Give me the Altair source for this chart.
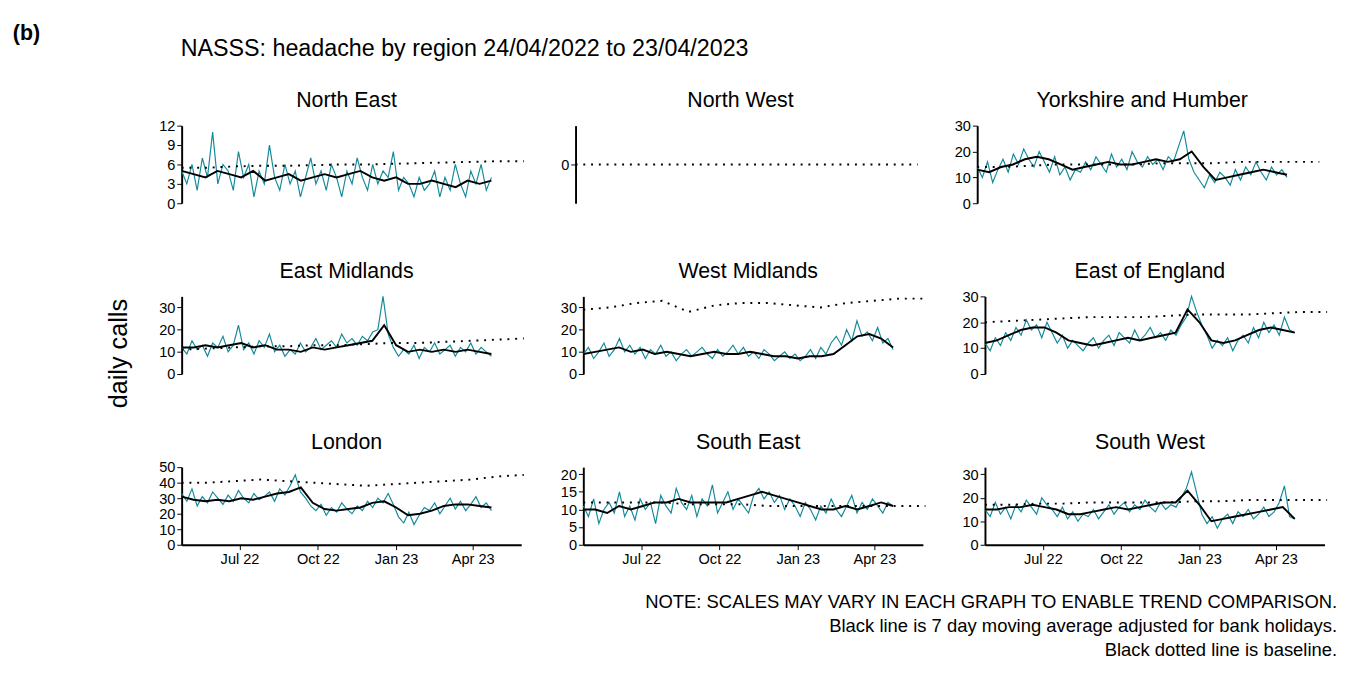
import altair as alt
import pandas as pd

START = "2022-04-24"
END_RAW = "2023-04-23"
END_BASE = "2023-05-31"
TEAL = "#138a9a"

regions = ["North East", "North West", "Yorkshire and Humber",
           "East Midlands", "West Midlands", "East of England",
           "London", "South East", "South West"]

# daily calls, read roughly every 6 days
raw = {
    "North East": [5, 3, 6, 2, 7, 4, 11, 3, 6, 5, 2, 8, 4, 6, 1, 5, 3, 9, 4, 2, 6, 3, 5, 1, 4, 7, 3, 5, 2, 6, 4, 1,
                   5, 3, 7, 4, 2, 6, 3, 5, 4, 8, 2, 4, 3, 1, 4, 2, 3, 5, 1, 4, 2, 6, 3, 1, 5, 3, 6, 2, 4],
    "North West": [],
    "Yorkshire and Humber": [14, 10, 16, 8, 13, 17, 12, 19, 15, 21, 17, 14, 20, 16, 12, 18, 11, 14, 9, 13, 12, 16, 13,
                             18, 15, 12, 19, 14, 17, 13, 20, 16, 14, 18, 15, 17, 13, 18, 16, 22, 28, 17, 12, 9, 6,
                             11, 8, 12, 10, 7, 13, 9, 14, 11, 16, 12, 9, 14, 11, 13, 10],
    "East Midlands": [12, 9, 15, 11, 13, 8, 14, 12, 17, 10, 13, 22, 11, 14, 9, 15, 12, 18, 10, 13, 8, 11, 9, 14, 10, 12,
                      16, 11, 13, 15, 12, 18, 14, 16, 13, 17, 15, 19, 20, 35, 18, 12, 8, 11, 9, 13, 7, 12, 10, 14, 9,
                      11, 13, 8, 12, 10, 14, 9, 12, 10, 8],
    "West Midlands": [9, 12, 7, 10, 14, 8, 11, 16, 10, 13, 9, 12, 7, 11, 9, 13, 8, 10, 6, 9, 11, 8, 10, 12, 9, 7, 11,
                      8, 10, 13, 9, 12, 8, 10, 7, 11, 9, 6, 8, 10, 7, 9, 6, 8, 11, 7, 12, 9, 14, 17, 13, 20, 15, 24,
                      17, 19, 15, 21, 14, 16, 11],
    "East of England": [12, 9, 14, 11, 16, 13, 18, 15, 21, 17, 19, 14, 20, 16, 12, 15, 10, 13, 11, 9, 12, 14, 10, 13,
                        15, 11, 16, 14, 12, 17, 13, 15, 18, 14, 16, 13, 17, 15, 19, 22, 30, 24, 19, 15, 10, 13, 11,
                        14, 9, 13, 15, 12, 18, 14, 20, 16, 19, 15, 22, 17, 16],
    "London": [33, 28, 36, 25, 31, 27, 34, 30, 26, 32, 28, 35, 30, 27, 33, 29, 31, 34, 28, 36, 32, 38, 45, 34, 30, 25,
               22, 26, 19, 24, 21, 27, 23, 20, 25, 22, 28, 24, 30, 27, 33, 26, 18, 14, 21, 13, 19, 24, 22, 27, 20,
               25, 30, 23, 28, 22, 26, 31, 24, 27, 22],
    "South East": [11, 8, 13, 6, 10, 12, 9, 15, 8, 11, 7, 13, 10, 12, 6, 14, 11, 9, 16, 12, 10, 14, 8, 13, 11, 17, 9,
                   12, 15, 10, 13, 11, 9, 14, 16, 13, 15, 12, 14, 10, 13, 11, 8, 12, 10, 7, 11, 9, 13, 10, 8, 11, 14,
                   9, 12, 10, 13, 11, 9, 12, 11],
    "South West": [15, 12, 18, 13, 16, 11, 17, 14, 19, 16, 13, 20, 17, 15, 12, 16, 11, 14, 10, 13, 12, 15, 11, 14, 17,
                   13, 16, 18, 14, 17, 15, 19, 16, 14, 18, 15, 17, 16, 20, 24, 31, 22, 13, 9, 12, 7, 11, 13, 9, 14,
                   12, 15, 11, 13, 16, 12, 14, 18, 25, 12, 11],
}

# 7 day moving average, read roughly every 2 weeks
ma = {
    "North East": [5, 4.5, 4, 5, 4.5, 4, 5, 3.5, 4, 4.5, 3.5, 4, 4.5, 4, 4.5, 5, 4, 3.5, 4, 3, 3, 3.5, 3, 2.5, 3.5, 3, 3.5],
    "North West": [],
    "Yorkshire and Humber": [13, 12, 14, 15, 17, 18, 17, 15, 13, 14, 15, 16, 15, 15, 16, 17, 16, 17, 20, 14, 9, 10, 11, 12, 13, 12, 11],
    "East Midlands": [12, 12, 13, 12, 13, 14, 12, 13, 11, 11, 10, 12, 11, 12, 13, 14, 15, 22, 13, 10, 11, 10, 11, 10, 11, 10, 9],
    "West Midlands": [9, 10, 11, 12, 10, 11, 9, 10, 9, 8, 9, 10, 9, 9, 10, 9, 8, 8, 7, 8, 8, 9, 13, 17, 18, 16, 12],
    "East of England": [12, 13, 15, 17, 18, 18, 16, 13, 12, 11, 12, 13, 14, 13, 14, 15, 16, 25, 20, 13, 12, 13, 15, 17, 18, 17, 16],
    "London": [31, 29, 28, 29, 28, 30, 29, 31, 33, 34, 37, 27, 23, 22, 23, 24, 27, 28, 24, 19, 20, 22, 25, 26, 26, 25, 24],
    "South East": [10, 10, 9, 11, 10, 11, 12, 12, 13, 12, 12, 12, 12, 13, 14, 15, 14, 13, 12, 11, 10, 10, 11, 10, 11, 12, 11],
    "South West": [15, 15, 16, 16, 17, 16, 15, 13, 13, 14, 15, 16, 15, 16, 17, 18, 18, 23, 17, 10, 11, 12, 13, 14, 15, 16, 11],
}

# baseline, roughly monthly to end of May 2023
base = {
    "North East": [5.5, 5.5, 5.7, 5.8, 5.8, 5.9, 6, 6, 6.1, 6.2, 6.3, 6.4, 6.5, 6.5],
    "North West": [0, 0, 0, 0, 0, 0, 0, 0, 0, 0, 0, 0, 0, 0],
    "Yorkshire and Humber": [14, 14, 14.5, 15, 15, 15, 15, 15.5, 15.5, 15.5, 16, 16, 16, 16],
    "East Midlands": [11, 11.5, 12, 12.5, 12.5, 13, 13, 13.5, 14, 14, 14.5, 15, 15.5, 16],
    "West Midlands": [29, 30, 32, 33, 28, 31, 32, 32, 31, 30, 32, 33, 34, 34],
    "East of England": [20, 20.5, 21, 21.5, 22, 22, 22, 22.5, 23, 23, 23, 23.5, 24, 24],
    "London": [40, 40, 41, 42, 41, 40, 39, 38, 39, 40, 41, 42, 44, 45],
    "South East": [12, 12, 12, 12, 11.5, 11.5, 11.5, 11, 11, 11, 11, 11, 11, 11],
    "South West": [17, 17, 17.5, 17.5, 18, 18, 18, 18, 18.5, 18.5, 19, 19, 19, 19],
}

y_ticks = {
    "North East": [0, 3, 6, 9, 12],
    "North West": [0],
    "Yorkshire and Humber": [0, 10, 20, 30],
    "East Midlands": [0, 10, 20, 30],
    "West Midlands": [0, 10, 20, 30],
    "East of England": [0, 10, 20, 30],
    "London": [0, 10, 20, 30, 40, 50],
    "South East": [0, 5, 10, 15, 20],
    "South West": [0, 10, 20, 30],
}
y_domain = {
    "North East": [0, 12], "North West": [-1, 1], "Yorkshire and Humber": [0, 30],
    "East Midlands": [0, 35], "West Midlands": [0, 35], "East of England": [0, 30],
    "London": [0, 50], "South East": [0, 22], "South West": [0, 33],
}
x_ticks = ["2022-07-01", "2022-10-01", "2023-01-01", "2023-04-01"]

FONT = "Liberation Sans"
PW, PH = 350, 80
FULLW = 1320
NOTE_X = 1365
one = alt.Data(values=[{}])


def frame(vals, end):
    if not vals:
        return pd.DataFrame({"date": pd.to_datetime([]), "v": []})
    d = pd.date_range(START, end, periods=len(vals))
    return pd.DataFrame({"date": d, "v": vals})


def panel(name, bottom):
    xscale = alt.Scale(domain=[START, "2023-05-28"])
    if bottom:
        xax = alt.Axis(values=x_ticks, format="%b %y", title=None, grid=False, labelFontSize=15,
                       labelColor="black", domainColor="black", tickColor="black", domainWidth=2,
                       labelFont=FONT, tickSize=5)
    else:
        xax = None
    yax = alt.Axis(values=y_ticks[name], grid=False, labelFontSize=15, labelColor="black",
                   domainColor="black", tickColor="black", domainWidth=2, labelFont=FONT, title=None)
    ysc = alt.Scale(domain=y_domain[name], nice=False, clamp=False)
    x = alt.X("date:T", scale=xscale, axis=xax)
    layers = []
    if raw[name]:
        layers.append(alt.Chart(frame(raw[name], END_RAW)).mark_line(color=TEAL, strokeWidth=1.2)
                      .encode(x=x, y=alt.Y("v:Q", scale=ysc, axis=yax)))
        layers.append(alt.Chart(frame(ma[name], END_RAW)).mark_line(color="black", strokeWidth=2)
                      .encode(x=x, y=alt.Y("v:Q", scale=ysc, axis=yax)))
    layers.append(alt.Chart(frame(base[name], END_BASE)).mark_line(color="black", strokeWidth=2,
                                                                   strokeDash=[2, 6])
                  .encode(x=x, y=alt.Y("v:Q", scale=ysc, axis=yax)))
    layers.append(alt.Chart(one).mark_text(font=FONT, fontSize=22, baseline="bottom").encode(
        x=alt.value(PW / 2 - 5), y=alt.value(-14), text=alt.value(name)))
    return alt.layer(*layers).properties(width=PW, height=PH)


header = alt.Chart(one).mark_text(align="left", baseline="top", font=FONT, fontSize=22,
                                  fontWeight="bold").encode(
    x=alt.value(0), y=alt.value(0), text=alt.value("(b)")
) + alt.Chart(one).mark_text(align="left", baseline="top", font=FONT, fontSize=24).encode(
    x=alt.value(173), y=alt.value(14), text=alt.value("NASSS: headache by region 24/04/2022 to 23/04/2023")
)
header = header.properties(width=FULLW, height=40)

notes = ["NOTE: SCALES MAY VARY IN EACH GRAPH TO ENABLE TREND COMPARISON.",
         "Black line is 7 day moving average adjusted for bank holidays.",
         "Black dotted line is baseline."]
footer = alt.layer(*[
    alt.Chart(one).mark_text(align="right", baseline="top", font=FONT, fontSize=19).encode(
        x=alt.value(NOTE_X), y=alt.value(i * 25), text=alt.value(t))
    for i, t in enumerate(notes)
]).properties(width=FULLW, height=70)

rows = [alt.hconcat(*[panel(n, r == 2) for n in regions[3 * r:3 * r + 3]], spacing=33)
        for r in range(3)]
grid = alt.vconcat(*rows, spacing=51)

ylabel = alt.Chart(one).mark_text(font=FONT, fontSize=26, angle=270).encode(
    x=alt.value(110), y=alt.value(235), text=alt.value("daily calls")
).properties(width=145, height=420)

body = alt.hconcat(ylabel, grid, spacing=5)

chart = alt.vconcat(header, body, footer, spacing=28).configure_view(stroke=None).properties(
    padding={"left": 5, "top": 5, "right": 5, "bottom": 5})

chart.save("out.html", embed_options={"renderer": "svg", "actions": False})
